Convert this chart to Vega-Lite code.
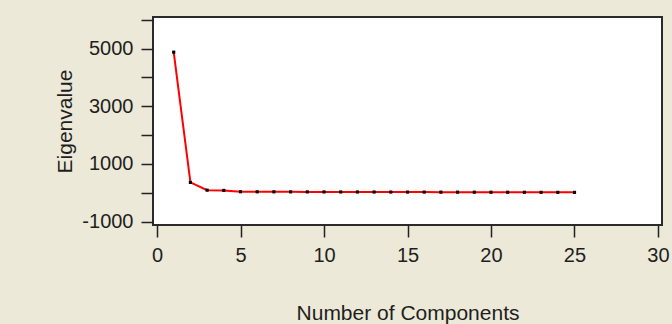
{
  "$schema": "https://vega.github.io/schema/vega-lite/v6.json",
  "width": 509,
  "height": 208,
  "autosize": {"type": "none"},
  "padding": {"left": 153, "top": 17, "right": 10, "bottom": 99},
  "background": "#ECE9D8",
  "config": {
    "font": "Liberation Sans",
    "view": {"fill": "white", "stroke": "#2b2b2b", "strokeWidth": 2},
    "axis": {
      "domain": false,
      "grid": false,
      "tickColor": "#222222",
      "tickWidth": 1.5,
      "tickSize": 12,
      "labelFontSize": 20,
      "labelColor": "#1e1e1e",
      "titleFontSize": 21,
      "titleFontWeight": "normal",
      "titleColor": "#1e1e1e"
    }
  },
  "data": {
    "values": [
      {"component": 1, "eigenvalue": 4880},
      {"component": 2, "eigenvalue": 358},
      {"component": 3, "eigenvalue": 90},
      {"component": 4, "eigenvalue": 80},
      {"component": 5, "eigenvalue": 34},
      {"component": 6, "eigenvalue": 32},
      {"component": 7, "eigenvalue": 31},
      {"component": 8, "eigenvalue": 30},
      {"component": 9, "eigenvalue": 29},
      {"component": 10, "eigenvalue": 28},
      {"component": 11, "eigenvalue": 27},
      {"component": 12, "eigenvalue": 26},
      {"component": 13, "eigenvalue": 25},
      {"component": 14, "eigenvalue": 24},
      {"component": 15, "eigenvalue": 23},
      {"component": 16, "eigenvalue": 22},
      {"component": 17, "eigenvalue": 21},
      {"component": 18, "eigenvalue": 20},
      {"component": 19, "eigenvalue": 19},
      {"component": 20, "eigenvalue": 18},
      {"component": 21, "eigenvalue": 17},
      {"component": 22, "eigenvalue": 16},
      {"component": 23, "eigenvalue": 15},
      {"component": 24, "eigenvalue": 14},
      {"component": 25, "eigenvalue": 13}
    ]
  },
  "encoding": {
    "x": {
      "field": "component",
      "type": "quantitative",
      "scale": {"domain": [-0.24, 30.24], "nice": false, "zero": false},
      "axis": {
        "values": [0, 5, 10, 15, 20, 25, 30],
        "title": "Number of Components",
        "labelPadding": 8,
        "titlePadding": 37
      }
    },
    "y": {
      "field": "eigenvalue",
      "type": "quantitative",
      "scale": {"domain": [-1120, 6100], "nice": false, "zero": false},
      "axis": {
        "values": [-1000, 0, 1000, 2000, 3000, 4000, 5000, 6000],
        "labelExpr": "datum.value % 2000 === 0 ? '' : '' + datum.value",
        "title": "Eigenvalue",
        "labelPadding": 8,
        "titlePadding": 6
      }
    }
  },
  "layer": [
    {"mark": {"type": "line", "color": "#ff0000", "strokeWidth": 2}},
    {"mark": {"type": "square", "color": "#000000", "size": 10, "opacity": 1}}
  ]
}
